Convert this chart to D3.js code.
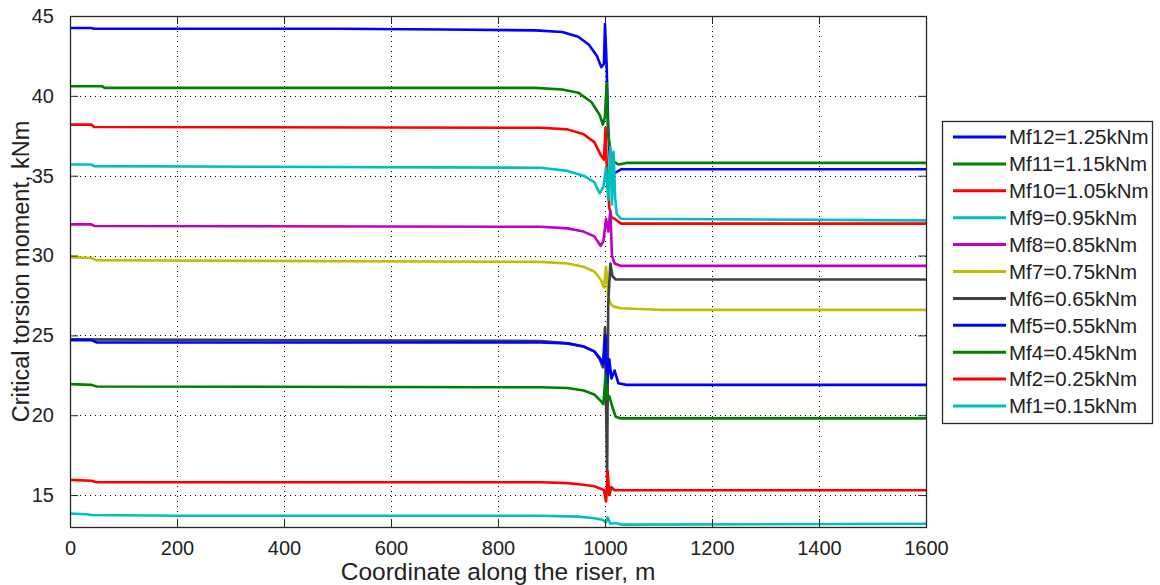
<!DOCTYPE html>
<html>
<head>
<meta charset="utf-8">
<script src="https://cdn.jsdelivr.net/npm/d3@7"></script>
<style>
  body { margin: 0; background: #fff; }
  svg text { font-family: "Liberation Sans", Arial, sans-serif; fill: #222; }
</style>
</head>
<body>
<div id="chart"></div>
<script>
// legend labels, in plotting order (first plotted = first in legend)
const seriesNames = [
  "Mf12=1.25kNm", "Mf11=1.15kNm", "Mf10=1.05kNm", "Mf9=0.95kNm",
  "Mf8=0.85kNm", "Mf7=0.75kNm", "Mf6=0.65kNm", "Mf5=0.55kNm",
  "Mf4=0.45kNm", "Mf2=0.25kNm", "Mf1=0.15kNm"
];
const seriesColors = [
  "#0000ff", "#008000", "#ff0000", "#00bfbf", "#bf00bf", "#bfbf00",
  "#404040", "#0000ff", "#008000", "#ff0000", "#00bfbf"
];

// [coordinate m, critical torsion moment kNm]
const mf12 = [[0,44.25],[40,44.25],[45,44.2],[500,44.2],[700,44.15],[870,44.1],[920,44.0],[950,43.7],[970,43.2],[985,42.5],[993,41.8],[998,42.0],[1000,44.5],[1003,42.0],[1006,38],[1010,35.5],[1015,35.1],[1020,35.2],[1030,35.4],[1600,35.4]];
const mf11 = [[0,40.6],[60,40.6],[65,40.5],[870,40.5],[920,40.4],[950,40.2],[975,39.6],[990,38.8],[996,38.2],[1000,38.7],[1003,40.8],[1006,37.5],[1010,36.6],[1016,35.9],[1025,35.7],[1040,35.8],[1600,35.8]];
const mf10 = [[0,38.2],[40,38.2],[45,38.05],[880,38.0],[930,37.9],[960,37.6],[980,37.1],[992,36.3],[998,36.0],[1001,38],[1004,35],[1008,33],[1012,32.4],[1018,32.3],[1030,32.0],[1600,32.0]];
const mf9 = [[0,35.7],[40,35.7],[45,35.6],[880,35.5],[930,35.3],[960,35.0],[980,34.6],[990,33.9],[997,34.3],[1002,35.5],[1006,33.5],[1010,36.8],[1013,33.2],[1016,36.5],[1019,33.6],[1022,32.6],[1030,32.3],[1600,32.2]];
const mf8 = [[0,31.95],[40,31.95],[45,31.85],[880,31.8],[930,31.7],[960,31.5],[980,31.2],[992,30.6],[997,30.9],[1002,32.3],[1006,31.5],[1010,32.8],[1013,30],[1018,29.5],[1030,29.35],[1600,29.35]];
const mf7 = [[0,29.9],[40,29.85],[50,29.7],[880,29.6],[930,29.5],[960,29.3],[980,29.0],[992,28.5],[998,28.0],[1002,29.3],[1006,27.4],[1010,27.0],[1016,26.8],[1030,26.7],[1100,26.6],[1600,26.6]];
const mf6 = [[0,24.75],[880,24.65],[930,24.5],[960,24.3],[980,24.0],[990,23.5],[996,23.0],[1000,25.5],[1004,16],[1006,27],[1010,29.5],[1014,28.7],[1020,28.5],[1600,28.5]];
const mf5 = [[0,24.7],[40,24.7],[50,24.55],[880,24.55],[930,24.5],[960,24.3],[980,24.0],[990,23.6],[997,23.2],[1001,25],[1004,22],[1008,23.5],[1012,22.3],[1018,22.8],[1025,22.0],[1040,21.9],[1600,21.9]];
const mf4 = [[0,21.95],[40,21.9],[50,21.8],[880,21.75],[930,21.7],[960,21.55],[980,21.3],[992,20.9],[997,20.7],[1001,22.5],[1004,21.0],[1008,21.2],[1014,20.5],[1020,19.9],[1030,19.8],[1600,19.8]];
const mf2 = [[0,15.95],[40,15.9],[50,15.8],[880,15.8],[930,15.75],[960,15.65],[980,15.55],[992,15.4],[998,15.3],[1002,14.6],[1005,16.5],[1008,15.0],[1012,15.5],[1018,15.3],[1600,15.3]];
const mf1 = [[0,13.85],[30,13.8],[40,13.75],[200,13.7],[880,13.7],[950,13.65],[980,13.55],[995,13.45],[1002,13.3],[1005,13.6],[1010,13.2],[1020,13.25],[1030,13.15],[1600,13.2]];
const seriesData = [mf12, mf11, mf10, mf9, mf8, mf7, mf6, mf5, mf4, mf2, mf1];

const xTicks = [0, 200, 400, 600, 800, 1000, 1200, 1400, 1600];
const yTicks = [15, 20, 25, 30, 35, 40, 45];

const width = 1160, height = 585;
const plot = { left: 70, right: 926, top: 16, bottom: 527 };

const svg = d3.select("#chart").append("svg")
  .attr("width", width)
  .attr("height", height);

const x = d3.scaleLinear().domain([0, 1600]).range([plot.left, plot.right]);
const y = d3.scaleLinear().domain([13, 45]).range([plot.bottom, plot.top]);

// grid
const grid = svg.append("g")
  .attr("stroke", "#000")
  .attr("stroke-width", 1)
  .attr("stroke-dasharray", "1,4");
grid.selectAll(".gx")
  .data(xTicks.slice(1, -1))
  .join("line")
  .attr("x1", d => Math.round(x(d)) + 0.5).attr("x2", d => Math.round(x(d)) + 0.5)
  .attr("y1", plot.top).attr("y2", plot.bottom);
grid.selectAll(".gy")
  .data(yTicks.filter(d => d < 45))
  .join("line")
  .attr("y1", d => Math.round(y(d)) + 0.5).attr("y2", d => Math.round(y(d)) + 0.5)
  .attr("x1", plot.left).attr("x2", plot.right);

// data lines
const line = d3.line().x(d => x(d[0])).y(d => y(d[1]));
svg.append("g").selectAll("path")
  .data(seriesData)
  .join("path")
  .attr("d", line)
  .attr("fill", "none")
  .attr("stroke", (d, i) => seriesColors[i])
  .attr("stroke-width", 2.6)
  .attr("stroke-linejoin", "round");

// axes with inward ticks on all four sides
const tickLen = 8;
const fmt = d3.format("d");
const axisBottom = d3.axisBottom(x).tickValues(xTicks).tickFormat(fmt).tickSize(-tickLen).tickPadding(tickLen + 6);
const axisTop = d3.axisTop(x).tickValues(xTicks).tickSize(-tickLen).tickFormat("");
const axisLeft = d3.axisLeft(y).tickValues(yTicks).tickFormat(fmt).tickSize(-tickLen).tickPadding(tickLen + 8);
const axisRight = d3.axisRight(y).tickValues(yTicks).tickSize(-tickLen).tickFormat("");

function styleAxis(g) {
  g.select(".domain").remove();
  g.selectAll(".tick line").attr("stroke", "#262626");
  g.selectAll(".tick text").attr("font-size", 20).attr("fill", "#262626")
    .style("font-family", "'Liberation Sans', Arial, sans-serif");
}
svg.append("g").attr("transform", `translate(0,${plot.bottom})`).call(axisBottom).call(styleAxis);
svg.append("g").attr("transform", `translate(0,${plot.top})`).call(axisTop).call(styleAxis);
svg.append("g").attr("transform", `translate(${plot.left},0)`).call(axisLeft).call(styleAxis);
svg.append("g").attr("transform", `translate(${plot.right},0)`).call(axisRight).call(styleAxis);

// frame
svg.append("rect")
  .attr("x", plot.left + 0.5).attr("y", plot.top + 0.5)
  .attr("width", plot.right - plot.left).attr("height", plot.bottom - plot.top)
  .attr("fill", "none").attr("stroke", "#262626").attr("stroke-width", 1.3);

// axis titles
svg.append("text")
  .attr("x", (plot.left + plot.right) / 2)
  .attr("y", 580)
  .attr("text-anchor", "middle")
  .attr("font-size", 24.5)
  .text("Coordinate along the riser, m");

svg.append("text")
  .attr("transform", `translate(29,${(plot.top + plot.bottom) / 2}) rotate(-90)`)
  .attr("text-anchor", "middle")
  .attr("font-size", 23.5)
  .text("Critical torsion moment, kNm");

// legend
const legend = svg.append("g").attr("transform", "translate(942,121)");
legend.append("rect")
  .attr("x", 0.5).attr("y", 0.5)
  .attr("width", 210).attr("height", 302)
  .attr("fill", "#fff").attr("stroke", "#262626").attr("stroke-width", 1.3);

const items = legend.selectAll(".item")
  .data(seriesNames)
  .join("g")
  .attr("transform", (d, i) => `translate(0,${16 + i * 26.9})`);
items.append("line")
  .attr("x1", 11).attr("x2", 64)
  .attr("stroke", (d, i) => seriesColors[i])
  .attr("stroke-width", 3);
items.append("text")
  .attr("x", 67)
  .attr("dy", "0.36em")
  .attr("font-size", 20.5)
  .text(d => d);
</script>
</body>
</html>
